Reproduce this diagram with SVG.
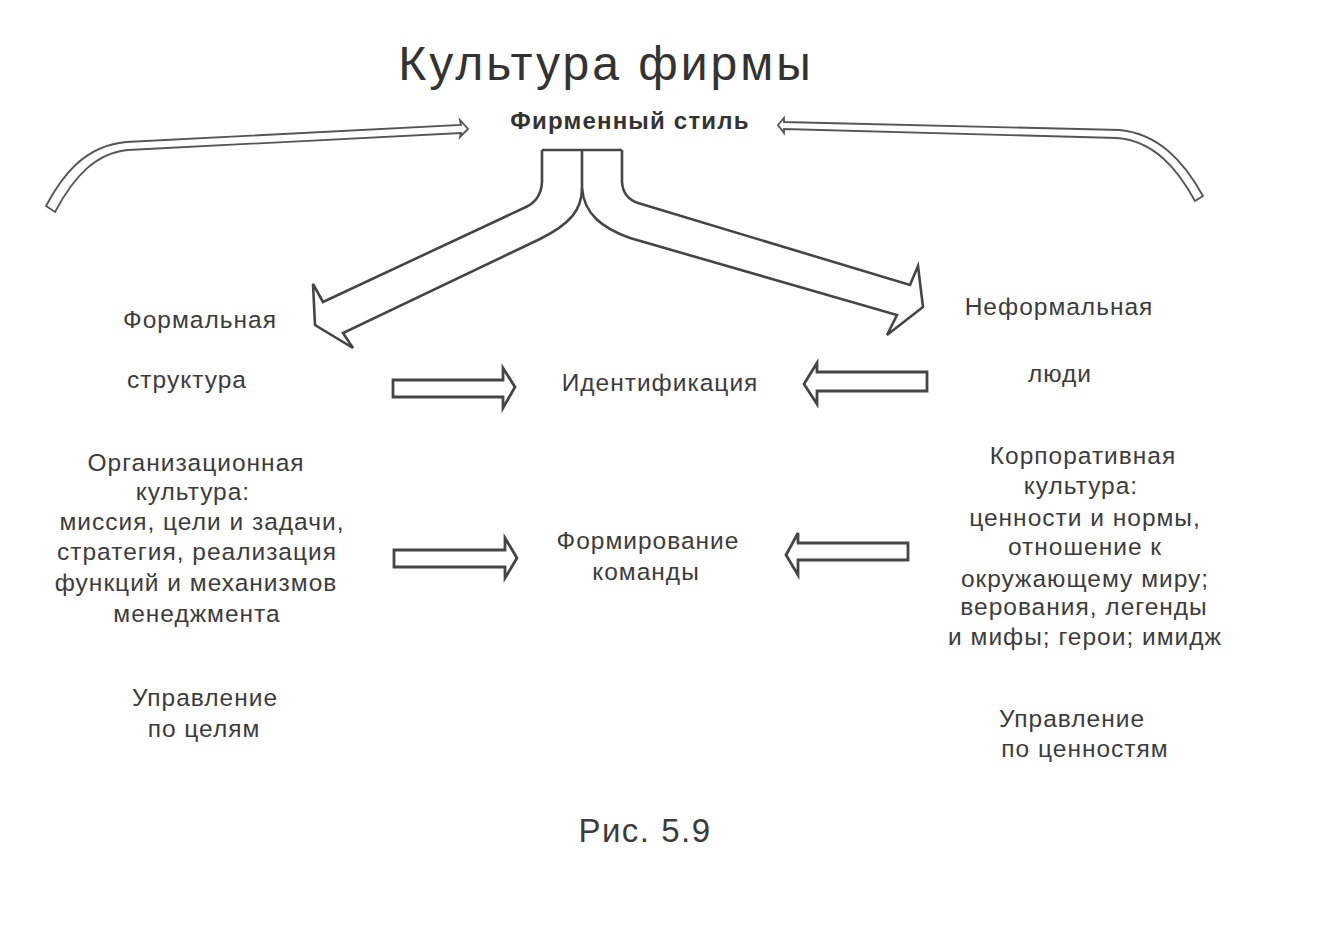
<svg xmlns="http://www.w3.org/2000/svg" width="1324" height="934" viewBox="0 0 1324 934">
<style>
.t{font-family:"Liberation Sans",Arial,sans-serif;fill:#3c3c3c;text-anchor:middle;font-size:24.5px;letter-spacing:1px}
.title{font-size:48px;letter-spacing:3px;fill:#333}
.sub{font-size:24px;font-weight:bold;letter-spacing:1.2px;fill:#333}
.cap{font-size:33px;letter-spacing:1.5px}
.ln{fill:none;stroke:#454545;stroke-width:2.6;stroke-linejoin:miter;stroke-linecap:butt}
.thin{fill:#fff;stroke:#555;stroke-width:1.8;stroke-linejoin:miter}
.blk{fill:#fff;stroke:#454545;stroke-width:2.8;stroke-linejoin:miter}
</style>
<rect width="1324" height="934" fill="#fff"/>
<g id="title"><text class="t title" x="606" y="80">Культура фирмы</text></g>
<g id="firm-style"><text class="t sub" x="630" y="129">Фирменный стиль</text></g>
<g id="formal"><text class="t" x="200" y="328">Формальная</text><text class="t" x="187" y="388">структура</text></g>
<g id="informal"><text class="t" x="1059" y="315">Неформальная</text><text class="t" x="1060" y="382">люди</text></g>
<g id="identification"><text class="t" x="660" y="391">Идентификация</text></g>
<g id="team"><text class="t" x="648" y="549">Формирование</text><text class="t" x="646" y="580">команды</text></g>
<g id="org-culture">
<text class="t" x="196" y="471">Организационная</text>
<text class="t" x="193" y="500">культура:</text>
<text class="t" x="202" y="530">миссия, цели и задачи,</text>
<text class="t" x="197" y="560">стратегия, реализация</text>
<text class="t" x="196" y="591">функций и механизмов</text>
<text class="t" x="197" y="622">менеджмента</text>
</g>
<g id="corp-culture">
<text class="t" x="1083" y="464">Корпоративная</text>
<text class="t" x="1081" y="494">культура:</text>
<text class="t" x="1085" y="526">ценности и нормы,</text>
<text class="t" x="1085" y="555">отношение к</text>
<text class="t" x="1085" y="587">окружающему миру;</text>
<text class="t" x="1084" y="615">верования, легенды</text>
<text class="t" x="1085" y="645">и мифы; герои; имидж</text>
</g>
<g id="mbo"><text class="t" x="205" y="706">Управление</text><text class="t" x="204" y="737">по целям</text></g>
<g id="mbv"><text class="t" x="1072" y="727">Управление</text><text class="t" x="1085" y="757">по ценностям</text></g>
<g id="caption"><text class="t cap" x="645" y="842">Рис. 5.9</text></g>
<g id="connectors">
<path class="thin" d="M46,206 C62,176 84,146 126,142 L461,125 L460,120 L468,129 L460,137 L461,133 L128,150 C96,153 74,176 55,212 Z"/>
<path class="thin" d="M778,125 L784,118 L784,122 L1120,130 C1158,134 1183,160 1203,196 L1195,201 C1178,170 1155,141 1117,138 L784,129 L784,133 Z"/>
<path class="ln" d="M542,150 H622 M582,150 V188"/>
<path class="ln" d="M542,150 V182 Q541,200 526,207 L323,302 L313,284 L315,325 L353,348 L343,333 L540,239 C570,224 582,210 582,188"/>
<path class="ln" d="M622,150 V182 Q623,198 638,203 L910,285 L918,266 L923,307 L887,335 L897,315 L630,238 C602,228 584,214 582,188"/>
<polygon class="blk" points="393,380 503,380 503,368 515,387 503,408 503,397 393,397"/>
<polygon class="blk" points="927,372 817,372 817,363 804,384 817,404 817,391 927,391"/>
<polygon class="blk" points="394,550 505,550 505,538 517,558 505,578 505,567 394,567"/>
<polygon class="blk" points="908,543 798,543 798,533 786,555 798,575 798,560 908,560"/>
</g>
</svg>
